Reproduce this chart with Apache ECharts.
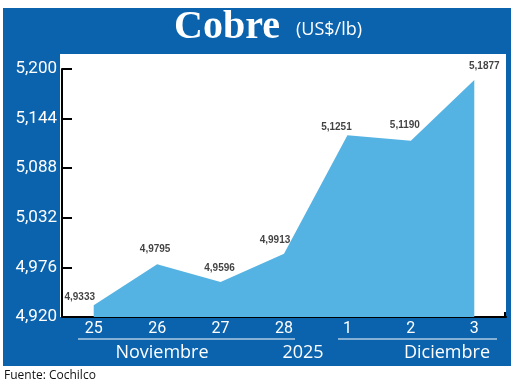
<!DOCTYPE html>
<html>
<head>
<meta charset="utf-8">
<script src="https://cdn.jsdelivr.net/npm/echarts@6/dist/echarts.min.js"></script>
<style>
html,body{margin:0;padding:0;background:#fff;}
#c{width:520px;height:388px;}
</style>
</head>
<body>
<div id="c"></div>
<script>
// ---- data ----
const categories = ['25', '26', '27', '28', '1', '2', '3'];
const prices = [4.9333, 4.9795, 4.9596, 4.9913, 5.1251, 5.1190, 5.1877];
const yTicks = { min: 4.920, max: 5.200, interval: 0.056 };
const groupLabels = ['Noviembre', '2025', 'Diciembre'];
const titleText = 'Cobre';
const unitText = '(US$/lb)';
const sourceText = 'Fuente: Cochilco';

// ---- layout / style ----
const BLUE = '#0b63ad';
const AREA = '#55b3e3';
const labelOffsets = [[-14, 6], [-2, -1], [-1, 0], [-9, 0], [-11, 6], [-6, -1], [10, 0]];
const fmt = v => v.toFixed(4).replace('.', ',');
const fmtAxis = v => v.toFixed(3).replace('.', ',');

const chart = echarts.init(document.getElementById('c'), null, { renderer: 'canvas' });
chart.setOption({
  animation: false,
  backgroundColor: '#fff',
  graphic: [
    { type: 'rect', z: -10, shape: { x: 3, y: 8, width: 508, height: 358 }, style: { fill: BLUE } },
    { type: 'rect', z: -9, shape: { x: 60, y: 54, width: 446, height: 263 }, style: { fill: '#fff' } },
    { type: 'text', left: 174, top: 8, style: { text: titleText, fill: '#fff', font: 'bold 40px "Liberation Serif", serif' } },
    { type: 'text', left: 296, top: 21, style: { text: unitText, fill: '#fff', font: '18px "Open Sans", sans-serif' } },
    { type: 'line', shape: { x1: 78, y1: 339, x2: 295, y2: 339 }, style: { stroke: '#fff', lineWidth: 1 } },
    { type: 'line', shape: { x1: 338, y1: 339, x2: 497, y2: 339 }, style: { stroke: '#fff', lineWidth: 1 } },
    { type: 'line', shape: { x1: 505, y1: 312, x2: 505, y2: 317 }, style: { stroke: '#000', lineWidth: 2 } },
    { type: 'text', x: 162, y: 353, style: { text: groupLabels[0], fill: '#fff', font: '18px "Open Sans", sans-serif', align: 'center', verticalAlign: 'middle' } },
    { type: 'text', x: 303, y: 353, style: { text: groupLabels[1], fill: '#fff', font: '18px "Open Sans", sans-serif', align: 'center', verticalAlign: 'middle' } },
    { type: 'text', x: 447, y: 353, style: { text: groupLabels[2], fill: '#fff', font: '18px "Open Sans", sans-serif', align: 'center', verticalAlign: 'middle' } },
    { type: 'text', left: 4, top: 370, style: { text: sourceText, fill: '#111', font: '12px "Open Sans", sans-serif' } }
  ],
  grid: { left: 62, right: 14, top: 69, bottom: 71, containLabel: false },
  xAxis: {
    type: 'category',
    data: categories,
    boundaryGap: true,
    axisLine: { show: true, lineStyle: { color: '#000', width: 2 } },
    axisTick: { show: false },
    axisLabel: { color: '#fff', fontSize: 16, margin: 4, fontFamily: 'Roboto, sans-serif' }
  },
  yAxis: {
    type: 'value',
    min: yTicks.min,
    max: yTicks.max,
    interval: yTicks.interval,
    axisLine: { show: true, lineStyle: { color: '#000', width: 2 } },
    axisTick: { show: true, inside: true, length: 10, lineStyle: { color: '#000', width: 2 } },
    splitLine: { show: false },
    axisLabel: { color: '#fff', fontSize: 17, margin: 5, fontFamily: 'Roboto, sans-serif', formatter: fmtAxis }
  },
  series: [{
    type: 'line',
    data: prices,
    symbol: 'none',
    lineStyle: { width: 0, color: AREA },
    areaStyle: { color: AREA, opacity: 1 },
    z: 2
  }, {
    type: 'scatter',
    data: prices.map((v, i) => ({
      value: [categories[i], v],
      label: { offset: labelOffsets[i] }
    })),
    symbolSize: 2,
    itemStyle: { color: 'rgba(0,0,0,0)' },
    z: 5,
    label: {
      show: true,
      position: 'top',
      distance: 8,
      color: '#111',
      fontSize: 10,
      fontWeight: 'bold',
      fontFamily: '"Liberation Sans", Arial, sans-serif',
      formatter: p => fmt(p.value[1])
    }
  }]
});
</script>
</body>
</html>
